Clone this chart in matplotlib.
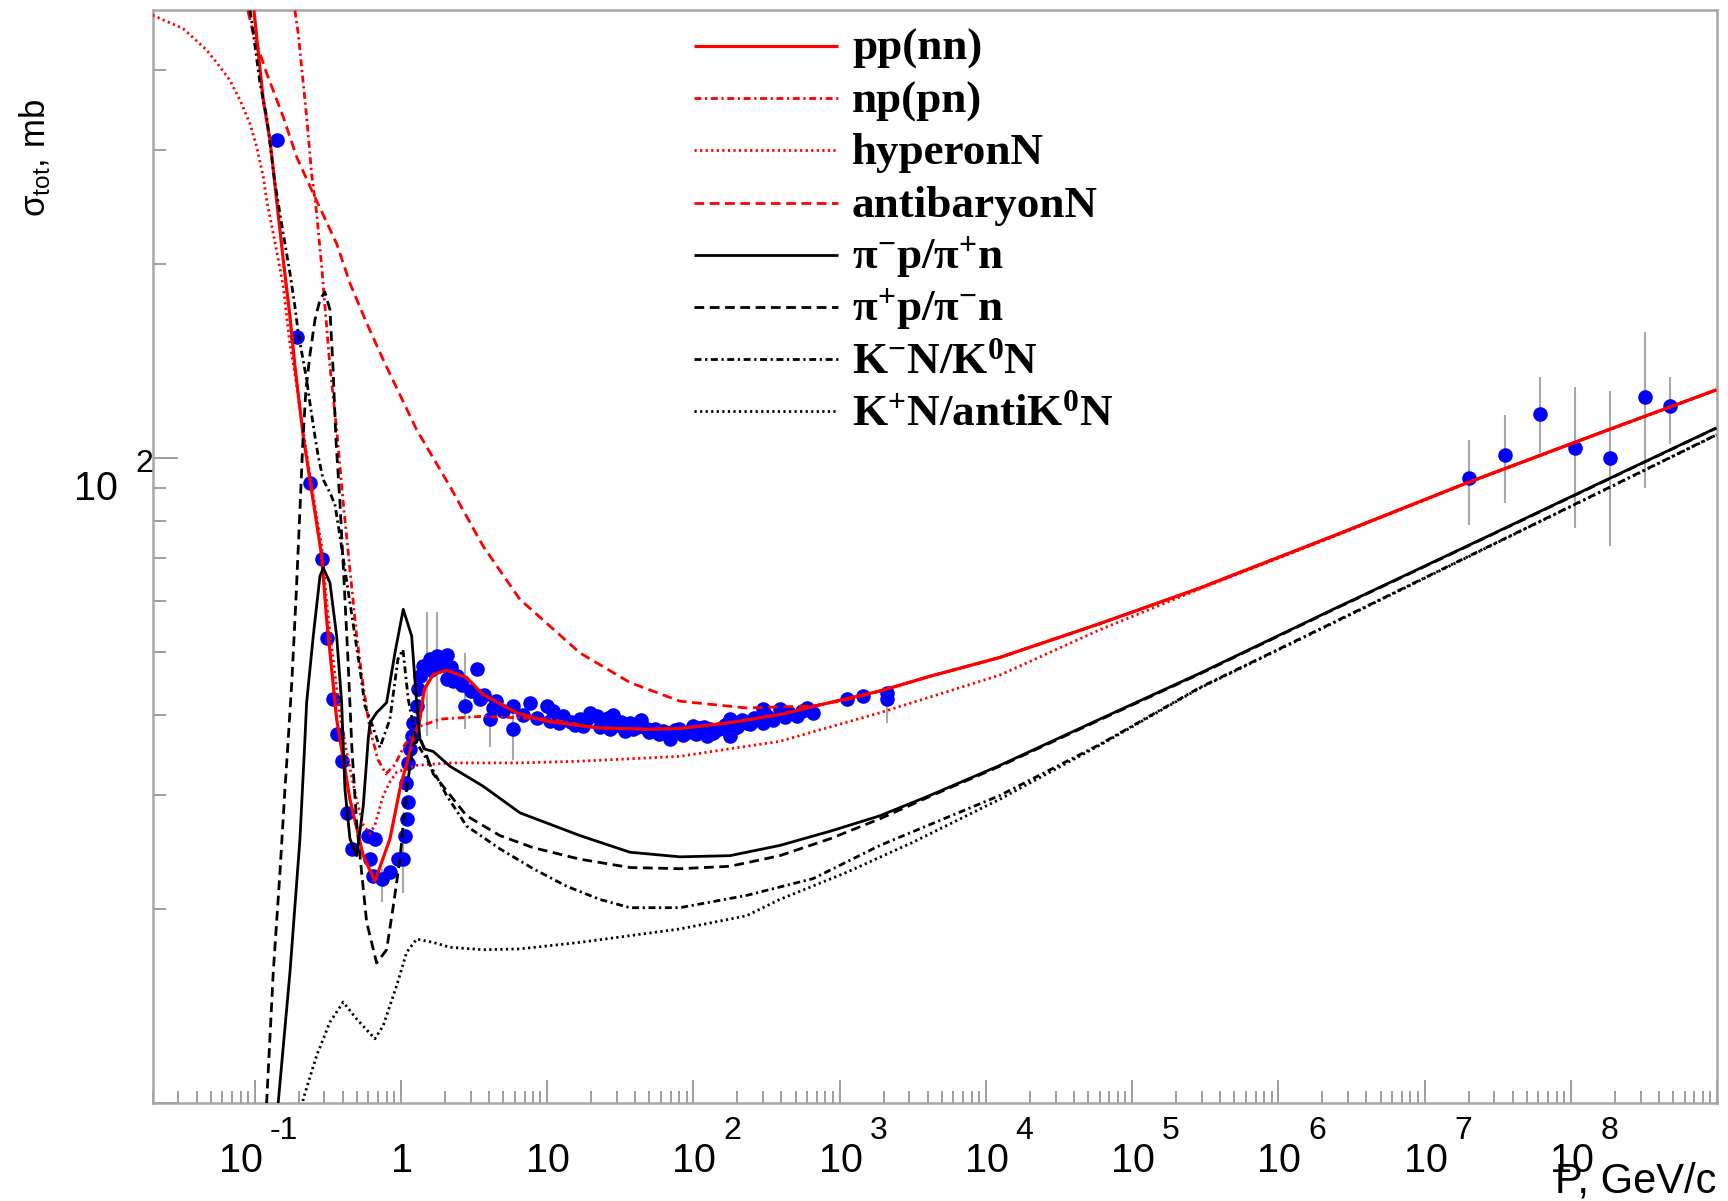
import numpy as np
import matplotlib
matplotlib.use('Agg')
import matplotlib.pyplot as plt
from matplotlib import transforms
from matplotlib.ticker import LogLocator, NullFormatter

plt.rcParams['mathtext.default'] = 'regular'
plt.rcParams['lines.scale_dashes'] = False

# ---------------- data (P in GeV/c, sigma in mb) ----------------
pp_P = [0.0988, 0.1144, 0.1272, 0.1413, 0.1567, 0.1742, 0.1884, 0.2148, 0.2386, 0.287, 0.3105, 0.336,
        0.3634, 0.3828, 0.448, 0.5524, 0.664, 0.841, 0.984, 1.214, 1.349, 1.443, 1.663, 2.053, 2.813,
        3.653, 6.18, 9.91, 21.8, 47.9, 80.9, 177.7, 390, 858, 1884, 4140, 12460, 60200, 290600,
        2.36e6, 1.936e7, 1.579e8, 9.9e8]
pp_S = [494, 359, 311, 251, 203, 165.8, 138.7, 108.1, 92.6, 70.5, 56.2, 47.1, 39.4, 36.7, 29.6, 24.2,
        22.1, 25.7, 30.7, 36.7, 39.4, 43.8, 46.2, 46.9, 45.7, 43.0, 40.3, 39.1, 38.2, 38.0, 38.1, 38.9,
        40.05, 41.8, 43.55, 45.9, 49.1, 55.4, 62.9, 75.7, 91.5, 109.4, 127.6]

np_P = [0.1884, 0.1985, 0.2148, 0.2265, 0.2451, 0.2652, 0.287, 0.327, 0.3634, 0.4031, 0.448, 0.498,
        0.5524, 0.614, 0.696, 0.789, 0.91, 1.065, 1.349, 1.848, 3.64, 10.4, 21.8, 47.9, 80.9, 177.7,
        390, 858, 1884, 4140, 12460, 60200, 290600, 2.36e6, 1.936e7, 1.579e8, 9.9e8]
np_S = [494, 455, 381, 338, 276, 239.7, 198.2, 138.7, 110.7, 85.3, 67.2, 53.0, 44.3, 38.0, 34.1, 32.4,
        33.5, 36.0, 38.4, 39.4, 39.8, 39.4, 38.2, 38.0, 38.1, 38.9, 40.05, 41.8, 43.55, 45.9, 49.1,
        55.4, 62.9, 75.7, 91.5, 109.4, 127.6]

hyp_P = [0.02, 0.0325, 0.0469, 0.0579, 0.0677, 0.0793, 0.0928, 0.1031, 0.1144, 0.1207, 0.1339, 0.1449,
         0.1567, 0.1653, 0.1742, 0.1884, 0.2148, 0.2386, 0.287, 0.3105, 0.336, 0.3634, 0.3828, 0.4253,
         0.498, 0.5524, 0.614, 0.664, 0.757, 0.841, 0.935, 1.28, 2.163, 6.51, 16.75, 80.9, 390, 1884,
         12460, 60200, 290600, 2.36e6, 1.936e7, 1.579e8, 9.9e8]
hyp_S = [486, 463, 429, 404, 385, 359, 330, 304, 273, 251, 223, 203, 184.5, 166, 150, 135, 110, 94, 73,
         60, 51, 44, 40, 35, 29.5, 27.0, 26.2, 27.0, 30.0, 31.5, 32.6, 33.4, 33.7, 33.7, 33.9, 34.5,
         36.4, 40.3, 46.1, 54.2, 62.7, 75.5, 91.4, 109.3, 127.5]

anti_P = [0.0899, 0.0977, 0.1207, 0.1567, 0.1936, 0.2514, 0.3634, 0.448, 0.5826, 0.757, 1.28, 2.163,
          3.653, 6.51, 16.75, 36.8, 80.9, 231, 659, 1116, 1884, 4140, 12460, 60200, 290600, 2.36e6,
          1.936e7, 1.579e8, 9.9e8]
anti_S = [494, 455, 395, 338, 293, 257, 215, 186.7, 162, 142, 110.7, 90.4, 73.0, 60.4, 49.9, 44.9,
          42.0, 41.0, 41.3, 42.2, 43.55, 45.9, 49.1, 55.4, 62.9, 75.7, 91.5, 109.4, 127.6]

pim_P = [0.1398, 0.1449, 0.1742, 0.2039, 0.2206, 0.2265, 0.2514, 0.2794, 0.2942, 0.327, 0.3634, 0.393,
         0.414, 0.448, 0.498, 0.5524, 0.5976, 0.614, 0.682, 0.798, 0.91, 1.037, 1.184, 1.28, 1.349,
         1.459, 1.663, 2.163, 3.653, 6.51, 16.75, 36.8, 80.9, 177.7, 390, 858, 1884, 4140, 12460,
         60200, 290600, 2.37e6, 1.936e7, 1.579e8, 9.9e8]
pim_S = [9.46, 10.04, 15.96, 25.7, 36.7, 41.8, 53.0, 65.6, 67.6, 64.1, 53.0, 41.8, 30.7, 25.7, 24.2,
         28.9, 36.7, 38.9, 40.3, 41.8, 49.9, 58.3, 53.0, 41.8, 36.7, 35.4, 35.1, 33.3, 31.0, 28.2, 26.0,
         24.5, 24.1, 24.2, 25.1, 26.4, 27.9, 30.0, 33.4, 39.4, 46.4, 58.3, 73.0, 91.5, 111.4]

pip_P = [0.1175, 0.1207, 0.1339, 0.1488, 0.1610, 0.1696, 0.1798, 0.1914, 0.2039, 0.2137, 0.2240, 0.2386,
         0.2582, 0.2794, 0.302, 0.327, 0.3428, 0.3594, 0.3828, 0.4076, 0.4342, 0.4623, 0.498, 0.5826,
         0.682, 0.798, 0.886, 0.984, 1.094, 1.214, 1.349, 1.663, 2.813, 4.75, 8.03, 16.75, 36.8, 80.9,
         177.7, 390, 858, 1884, 4140, 12460, 60200, 290600, 2.37e6, 1.936e7, 1.579e8, 9.9e8]
pip_S = [9.46, 10.04, 15.96, 22.8, 30.7, 36.7, 45.4, 60.4, 83.2, 106.8, 127.6, 144.6, 163.8, 176, 181,
         169.8, 138.6, 106.8, 85.3, 64.9, 48.8, 35.4, 27.2, 19.1, 16.5, 17.3, 20.2, 23.9, 30.7, 36.0,
         36.9, 32.4, 27.9, 26.0, 24.9, 23.9, 23.2, 23.1, 23.3, 24.2, 25.7, 27.6, 29.9, 33.3, 39.3, 46.3,
         58.2, 72.9, 91.4, 111.3]

kmn_P = [0.0928, 0.0953, 0.1086, 0.1207, 0.1376, 0.1567, 0.1742, 0.1884, 0.1985, 0.2265, 0.2386,
         0.2582, 0.272, 0.2942, 0.327, 0.3537, 0.3828, 0.414, 0.448, 0.4847, 0.5244, 0.5673, 0.6334,
         0.7185, 0.841, 0.954, 1.032, 1.122, 1.28, 1.579, 2.053, 2.813, 4.75, 8.03, 13.58, 22.95, 36.8,
         80.9, 231, 659, 1884, 12460, 60200, 290600, 2.37e6, 1.936e7, 1.579e8, 9.9e8]
kmn_S = [494, 477, 381, 338, 266.7, 223, 193.5, 171.8, 156.3, 132.3, 121.7, 108.1, 100.6, 92.6, 88.4,
         84.7, 75.7, 67.2, 59.7, 53.0, 47.1, 41.3, 38.7, 35.6, 39.4, 48.8, 50.5, 42.3, 36.2, 33.5, 30.0,
         26.9, 24.8, 23.1, 21.7, 20.7, 20.1, 20.1, 21.0, 22.3, 25.1, 30.0, 36.0, 44.1, 55.6, 70.2, 88.6,
         108.7]

kpn_P = [0.2085, 0.2148, 0.2652, 0.327, 0.4031, 0.498, 0.664, 0.757, 0.935, 1.094, 1.28, 1.663, 2.163,
         3.653, 6.51, 16.75, 80.9, 231, 390, 1116, 3184, 12460, 60200, 290600, 2.37e6, 1.936e7,
         1.579e8, 9.9e8]
kpn_S = [9.5, 10.16, 11.86, 13.36, 14.35, 13.51, 12.59, 13.2, 15.22, 17.14, 17.97, 17.76, 17.45, 17.3,
         17.35, 17.76, 18.63, 19.53, 20.7, 22.8, 25.4, 29.6, 35.9, 44.0, 55.5, 70.1, 88.5, 108.6]

# measured pp points
dat_P = [0.1413, 0.1936, 0.2386, 0.287, 0.3105, 0.3444, 0.3634, 0.393, 0.4253, 0.46, 0.5976, 0.614,
         0.6466, 0.664, 0.738, 0.841, 0.958, 1.037, 1.065, 1.082, 1.094, 1.122, 1.122, 1.152, 1.184,
         1.214, 1.28, 1.313, 1.349, 1.42, 1.50, 1.579, 1.6, 1.7, 1.754, 1.85, 1.95, 2.053, 2.053, 2.2,
         2.278, 2.4, 2.6, 2.74, 3.0, 3.293, 3.47, 3.7, 4.06, 4.28, 4.5, 5.0, 5.86, 5.86, 6.8, 7.62,
         8.5, 9.91, 10.5, 11.0, 12.0, 12.89, 14.5, 15.5, 16.75, 17.5, 18.61, 19.5, 21.8, 23, 24, 26,
         27, 28.3, 30, 32, 34, 36.8, 38.5, 41, 44, 47.9, 50, 55, 58, 62, 65.6, 69.1, 75, 80, 85, 92,
         99.7, 105, 110, 118, 123, 130, 136.6, 150, 165, 177.7, 177.7, 190, 200, 215, 231, 245, 260,
         280, 300, 300, 320, 350, 390, 420, 450, 507.8, 550, 600, 659, 1116, 1449, 2094, 2094,
         2.018e7, 3.538e7, 6.14e7, 1.077e8, 1.868e8, 3.243e8, 4.806e8]
dat_S = [311, 154, 91.5, 69.7, 52.7, 42.3, 37.3, 33.9, 28.2, 24.8, 26.0, 23.9, 22.5, 25.7, 22.3, 22.8,
         23.9, 23.9, 26.0, 31.4, 27.6, 29.3, 33.7, 35.4, 37.1, 38.9, 41.3, 43.8, 45.9, 47.6, 47.5, 48.8,
         47.0, 48.0, 49.3, 48.5, 47.8, 49.6, 45.4, 47.5, 45.1, 46.0, 44.5, 41.3, 43.5, 47.1, 42.3, 43.0,
         39.4, 41.0, 42.0, 40.5, 41.3, 38.0, 40.0, 41.8, 39.6, 41.3, 39.2, 40.5, 38.9, 39.8, 39.0, 38.6,
         39.4, 38.4, 39.4, 40.2, 39.8, 38.3, 38.8, 39.5, 38.0, 40.05, 38.6, 39.0, 37.8, 38.9, 38.1, 38.3,
         39.3, 38.0, 37.6, 38.1, 37.4, 37.7, 37.5, 36.7, 37.9, 38.0, 37.2, 37.6, 38.5, 37.4, 38.2, 38.3,
         37.1, 38.0, 37.5, 38.0, 38.6, 39.4, 37.1, 38.2, 38.3, 39.3, 38.9, 38.7, 39.5, 39.4, 40.8, 38.9,
         39.8, 39.3, 40.8, 39.7, 40.2, 39.8, 40.6, 41.0, 40.3, 42.3, 42.8, 43.3, 42.3,
         93.0, 101.0, 117.1, 103.7, 100.1, 124.2, 120.3]

# error bars (low / high ends, mb)
err_P = [0.738, 1.037, 1.50, 1.754, 2.74, 4.06, 5.86, 2094,
         2.018e7, 3.538e7, 6.14e7, 1.077e8, 1.868e8, 3.243e8, 4.806e8]
err_lo = [20.5, 21.2, 37.1, 38.0, 38.0, 35.7, 34.1, 38.9,
          78.9, 85.2, 101.9, 78.0, 73.0, 89.9, 105.0]
err_hi = [23.1, 26.0, 57.7, 57.7, 49.9, 39.8, 41.0, 44.0,
          106.8, 116.8, 133.8, 129.1, 126.9, 157.1, 133.8]

legend_labels = ['pp(nn)', 'np(pn)', 'hyperonN', 'antibaryonN',
                 'π$^{-}$p/π$^{+}$n', 'π$^{+}$p/π$^{-}$n',
                 'K$^{-}$N/K$^{0}$N', 'K$^{+}$N/antiK$^{0}$N']

xtick_vals = [0.1, 1, 10, 1e2, 1e3, 1e4, 1e5, 1e6, 1e7, 1e8]
xtick_base = ['10', '1', '10', '10', '10', '10', '10', '10', '10', '10']
xtick_exp = ['-1', '', '', '2', '3', '4', '5', '6', '7', '8']

# ---------------- figure ----------------
W, H = 1728, 1201
fig = plt.figure(figsize=(W / 100, H / 100), dpi=100)
ax_l, ax_r, ax_t, ax_b = 152.5, 1717.0, 10.0, 1103.3
ax = fig.add_axes([ax_l / W, 1 - ax_b / H, (ax_r - ax_l) / W, (ax_b - ax_t) / H])
ax.set_xscale('log')
ax.set_yscale('log')
ax.set_xlim(0.02, 1e9)
ax.set_ylim(10, 495)

RED = '#ff0000'
BLK = '#000000'
DASH = (7.0, 4.0)
DASHDOT = (5.0, 2.6, 1.6, 2.6)
DOT = (1.6, 2.4)

styles = [
    (pp_P, pp_S, RED, None, 2.3),
    (np_P, np_S, RED, DASHDOT, 2.0),
    (hyp_P, hyp_S, RED, DOT, 2.0),
    (anti_P, anti_S, RED, DASH, 2.0),
    (pim_P, pim_S, BLK, None, 2.0),
    (pip_P, pip_S, BLK, DASH, 2.0),
    (kmn_P, kmn_S, BLK, DASHDOT, 2.0),
    (kpn_P, kpn_S, BLK, DOT, 2.0),
]

# data points first
ax.vlines(err_P, err_lo, err_hi, colors='#a8a8a8', linewidth=1.5, zorder=2)
ax.plot(dat_P, dat_S, 'o', color='#0000ff', markersize=10.5, markeredgewidth=0, zorder=2.5)

for P, S, c, d, lw in styles:
    ln, = ax.plot(P, S, color=c, linewidth=lw, zorder=3, solid_capstyle='butt',
                  solid_joinstyle='round')
    if d is not None:
        ln.set_dashes(d)

# ---------------- axes styling ----------------
for s in ax.spines.values():
    s.set_color('#a6a6a6')
    s.set_linewidth(1.8)

ax.xaxis.set_major_locator(LogLocator(base=10, numticks=30))
ax.xaxis.set_minor_locator(LogLocator(base=10, subs=np.arange(2, 10), numticks=300))
ax.yaxis.set_major_locator(LogLocator(base=10, numticks=10))
ax.yaxis.set_minor_locator(LogLocator(base=10, subs=np.arange(2, 10), numticks=100))
for a in (ax.xaxis, ax.yaxis):
    a.set_major_formatter(NullFormatter())
    a.set_minor_formatter(NullFormatter())

tc = '#8c8c8c'
ax.tick_params(axis='x', which='major', direction='in', length=16.5, width=1.2, color=tc, top=False)
ax.tick_params(axis='x', which='minor', direction='in', length=8.6, width=1.2, color=tc, top=False)
ax.tick_params(axis='y', which='major', direction='in', length=18, width=1.2, color=tc, right=False)
ax.tick_params(axis='y', which='minor', direction='in', length=9.4, width=1.2, color=tc, right=False)

# ---------------- tick labels (ROOT style) ----------------
tfont = dict(family='Liberation Sans', color='black')
bx = transforms.blended_transform_factory(ax.transData, ax.transAxes)
base_y = (ax_b - 1172.0) / (ax_b - ax_t)
for v, b, e in zip(xtick_vals, xtick_base, xtick_exp):
    dx = -14 if e.startswith('-') else 1
    tr = bx + transforms.ScaledTranslation(dx / 100, 0, fig.dpi_scale_trans)
    t = ax.text(v, base_y, b, transform=tr, ha='center', va='baseline', fontsize=28.5, **tfont)
    if e:
        ax.annotate(e, xy=(1, 1), xycoords=t, xytext=(5, 2.5), textcoords='offset points',
                    ha='left', va='baseline', fontsize=23, **tfont)

by = transforms.blended_transform_factory(ax.transAxes, ax.transData)
ax.text((118.3 - ax_l) / (ax_r - ax_l), 100, '10',
        transform=by + transforms.ScaledTranslation(0, -42 / 100, fig.dpi_scale_trans),
        ha='right', va='baseline', fontsize=28.5, **tfont)
ax.text((135 - ax_l) / (ax_r - ax_l), 100, '2',
        transform=by + transforms.ScaledTranslation(0, -14 / 100, fig.dpi_scale_trans),
        ha='left', va='baseline', fontsize=23, **tfont)

# axis titles
ax.text(1.0, (ax_b - 1193) / (ax_b - ax_t), 'P, GeV/c', transform=ax.transAxes, ha='right',
        va='baseline', fontsize=30, **tfont)
fig.text(45 / W, 1 - 99 / H, 'σ$_{tot}$, mb', rotation=90, rotation_mode='anchor',
         ha='right', va='baseline', fontsize=25, **tfont)

# ---------------- legend (drawn by hand, ROOT TLegend style) ----------------
lx0 = (694 - ax_l) / (ax_r - ax_l)
lx1 = (838 - ax_l) / (ax_r - ax_l)
ltx = (852 - ax_l) / (ax_r - ax_l)
for i, ((P, S, c, d, lw), lab) in enumerate(zip(styles, legend_labels)):
    yp = 46 + 52.2 * i
    yf = (ax_b - yp) / (ax_b - ax_t)
    ln, = ax.plot([lx0, lx1], [yf, yf], transform=ax.transAxes, color=c, linewidth=lw,
                  solid_capstyle='butt', clip_on=False, zorder=4)
    if d is not None:
        ln.set_dashes(d)
    ax.text(ltx, (ax_b - yp - 14) / (ax_b - ax_t), lab, transform=ax.transAxes, ha='left',
            va='baseline', fontsize=32.5, family='Liberation Serif', fontweight='bold', color='black')

fig.savefig('out.png', dpi=100)
